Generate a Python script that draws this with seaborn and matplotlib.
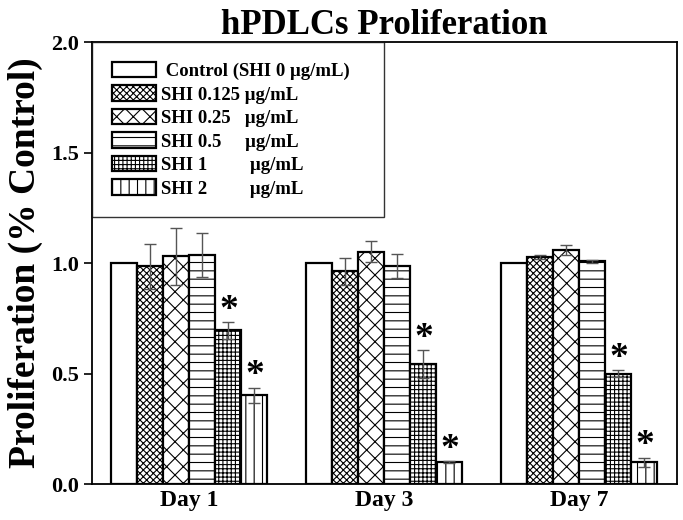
import pandas as pd
import matplotlib
matplotlib.use("Agg")
import matplotlib.pyplot as plt
import seaborn as sns

# ---------------- DATA ---------------- #

days = ["Day 1", "Day 3", "Day 7"]
groups = [" Control (SHI 0 \u03bcg/mL)",
          "SHI 0.125 \u03bcg/mL",
          "SHI 0.25   \u03bcg/mL",
          "SHI 0.5     \u03bcg/mL",
          "SHI 1         \u03bcg/mL",
          "SHI 2         \u03bcg/mL"]

# mean proliferation per group, one list per day
day1_mean = [1.00, 0.985, 1.030, 1.035, 0.695, 0.402]
day3_mean = [1.00, 0.963, 1.052, 0.987, 0.543, 0.098]
day7_mean = [1.00, 1.028, 1.058, 1.008, 0.500, 0.098]

day1_sd = [0.0, 0.102, 0.128, 0.100, 0.038, 0.034]
day3_sd = [0.0, 0.062, 0.046, 0.056, 0.063, 0.004]
day7_sd = [0.0, 0.010, 0.022, 0.007, 0.016, 0.020]

significant = [False, False, False, False, True, True]

hatches = ["", "xxxxx", "xx", "--", "++++", "||"]

# ---------------- TABLE ---------------- #

rows = []
for day, means, sds in zip(days, [day1_mean, day3_mean, day7_mean],
                           [day1_sd, day3_sd, day7_sd]):
    for g, m, s in zip(groups, means, sds):
        rows.append({"day": day, "group": g, "value": m, "sd": s})
df = pd.DataFrame(rows)

# ---------------- STYLE ---------------- #

sns.set_style("ticks")
plt.rcParams["font.family"] = ["Liberation Serif", "DejaVu Serif"]
plt.rcParams["font.weight"] = "bold"
plt.rcParams["hatch.linewidth"] = 0.8
for key in ["text.color", "axes.labelcolor", "xtick.color", "ytick.color"]:
    plt.rcParams[key] = "black"

fig = plt.figure(figsize=(6.83, 5.20), dpi=100)
ax = fig.add_axes([0.1347, 0.0692, 0.8565, 0.8498])

sns.barplot(data=df, x="day", y="value", hue="group", order=days,
            hue_order=groups, palette=["white"] * len(groups),
            edgecolor="black", linewidth=1.6, errorbar=None,
            legend=False, ax=ax)

# hatches + error bars + stars
for gi, (cont, h) in enumerate(zip(ax.containers, hatches)):
    sub = df[df["group"] == groups[gi]].set_index("day").loc[days]
    for bar, m, s in zip(cont.patches, sub["value"], sub["sd"]):
        bar.set_hatch(h)
        xc = bar.get_x() + bar.get_width() / 2
        if s > 0:
            ax.errorbar(xc, m, yerr=s, color="#555555", lw=1.0,
                        capsize=4.5, capthick=1.0, zorder=3)
        if significant[gi]:
            ax.text(xc, m + s - 0.025, "*", ha="center", va="bottom",
                    fontsize=27, fontweight="bold")

ax.set_ylim(0, 2.0)
ax.set_xlim(-0.5, 2.5)
ax.set_yticks([0.0, 0.5, 1.0, 1.5, 2.0])
ax.set_yticklabels(["0.0", "0.5", "1.0", "1.5", "2.0"])
ax.tick_params(axis="y", direction="out", length=6, width=1.2, labelsize=16)
ax.tick_params(axis="x", length=0, labelsize=17, pad=4)
for sp in ax.spines.values():
    sp.set_visible(True)
    sp.set_linewidth(1.3)
    sp.set_color("black")

ax.set_xlabel("")
ax.set_ylabel("Proliferation (% Control)", fontsize=27, fontweight="bold",
              labelpad=6)
ax.set_title("hPDLCs Proliferation", fontsize=25, fontweight="bold", pad=5)

leg = ax.legend(ax.containers, groups, loc="upper left",
                bbox_to_anchor=(0, 1, 0.5, 0), mode="expand",
                borderaxespad=0, fancybox=False, frameon=True,
                prop={"size": 13.5, "weight": "bold"},
                handlelength=2.35, handleheight=0.9, handletextpad=0.3,
                labelspacing=0.28, borderpad=1.05)
leg.get_frame().set_edgecolor("black")
leg.get_frame().set_linewidth(1.0)
leg.set_zorder(5)

fig.savefig("out.png", dpi=100)
